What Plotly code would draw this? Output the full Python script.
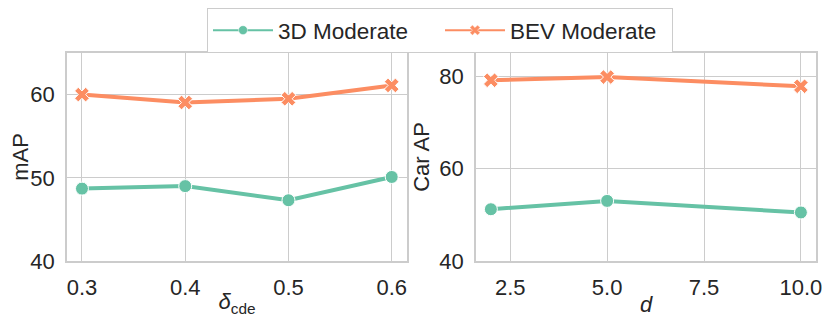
import plotly.graph_objects as go
from plotly.subplots import make_subplots

# left panel: delta_cde sweep
delta_vals = [0.3, 0.4, 0.5, 0.6]
map_3d = [48.7, 49.0, 47.3, 50.1]
map_bev = [60.0, 59.05, 59.5, 61.1]

# right panel: d sweep
d_vals = [2, 5, 10]
car_3d = [51.2, 53.0, 50.5]
car_bev = [79.1, 79.8, 77.8]

green = "#66c2a5"
orange = "#fc8d62"
txt = "#262626"
grid = "#cccccc"
font = "Liberation Sans, Arial, sans-serif"

# page body keeps its 8px margin, so the figure is 16px smaller than the window
W, H = 814, 309

fig = make_subplots(rows=1, cols=2)

def add_pair(xs, y3d, ybev, col):
    fig.add_trace(go.Scatter(x=xs, y=y3d, mode="lines+markers", name="3D Moderate",
                             line=dict(color=green, width=4),
                             marker=dict(symbol="circle", size=13, color=green,
                                         line=dict(color="white", width=1)),
                             showlegend=False), row=1, col=col)
    fig.add_trace(go.Scatter(x=xs, y=ybev, mode="lines+markers", name="BEV Moderate",
                             line=dict(color=orange, width=4),
                             marker=dict(symbol="x", size=13, color=orange,
                                         line=dict(color="white", width=1)),
                             showlegend=False), row=1, col=col)

add_pair(delta_vals, map_3d, map_bev, 1)
add_pair(d_vals, car_3d, car_bev, 2)

# thinner legend-only entries, like the matplotlib legend
for name, color, sym in [("3D Moderate", green, "circle"), ("BEV Moderate", orange, "x")]:
    fig.add_trace(go.Scatter(x=[None], y=[None], mode="lines+markers", name=name,
                             line=dict(color=color, width=2),
                             marker=dict(symbol=sym, size=9, color=color,
                                         line=dict(color="white", width=0.5))),
                  row=1, col=1)

axis_style = dict(showgrid=True, gridcolor=grid, gridwidth=1, showline=True,
                  linecolor=grid, linewidth=1.5, mirror=True, zeroline=False,
                  tickfont=dict(size=22, color=txt), ticks="", ticklabelstandoff=6,
                  ticklabeloverflow="allow", automargin=False)

fig.update_xaxes(**axis_style)
fig.update_yaxes(**axis_style)

ydom = [56 / H, 264 / H]
fig.update_xaxes(domain=[59 / W, 399 / W], range=[0.2855, 0.6148],
                 tickvals=[0.3, 0.4, 0.5, 0.6], ticktext=["0.3", "0.4", "0.5", "0.6"],
                 title=dict(text="<i>δ</i><sub>cde</sub>", font=dict(size=22, color=txt), standoff=4),
                 row=1, col=1)
fig.update_yaxes(domain=ydom, range=[40, 65], tickvals=[40, 50, 60],
                 title=dict(text="mAP", font=dict(size=22, color=txt), standoff=6),
                 row=1, col=1)
fig.update_xaxes(domain=[468 / W, 808 / W], range=[1.616, 10.39],
                 tickvals=[2.5, 5.0, 7.5, 10.0], tickformat=".1f",
                 title=dict(text="<i>d</i>", font=dict(size=22, color=txt), standoff=4),
                 row=1, col=2)
fig.update_yaxes(domain=ydom, range=[40, 85], tickvals=[40, 60, 80],
                 title=dict(text="Car AP", font=dict(size=22, color=txt), standoff=4),
                 row=1, col=2)

fig.update_layout(
    width=W, height=H,
    margin=dict(l=0, r=0, t=0, b=0),
    paper_bgcolor="white", plot_bgcolor="white",
    font=dict(family=font, size=22, color=txt),
    legend=dict(orientation="h", x=432 / W, xanchor="center", y=1.0, yanchor="top",
                bordercolor=grid, borderwidth=1, bgcolor="white",
                font=dict(size=22.5, color=txt), itemwidth=60,
                entrywidth=157, entrywidthmode="pixels"),
)

fig.write_html("out.html")
